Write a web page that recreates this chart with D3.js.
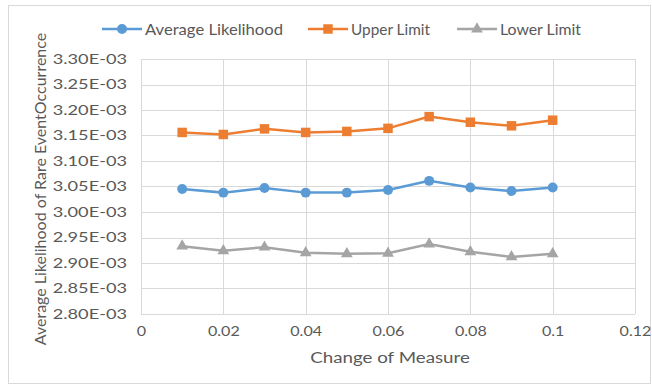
<!DOCTYPE html>
<html><head><meta charset="utf-8">
<script src="https://cdn.jsdelivr.net/npm/d3@7"></script>
<style>body{margin:0;background:#fff;}</style>
</head><body><svg id="c" width="652" height="385"></svg>
<script>
const xValues=[0.01,0.02,0.03,0.04,0.05,0.06,0.07,0.08,0.09,0.1];
const averageLikelihood=[3.045e-3,3.038e-3,3.047e-3,3.038e-3,3.038e-3,3.043e-3,3.061e-3,3.048e-3,3.041e-3,3.048e-3];
const upperLimit=[3.156e-3,3.152e-3,3.163e-3,3.156e-3,3.158e-3,3.164e-3,3.187e-3,3.176e-3,3.169e-3,3.180e-3];
const lowerLimit=[2.933e-3,2.924e-3,2.931e-3,2.920e-3,2.918e-3,2.919e-3,2.937e-3,2.922e-3,2.912e-3,2.918e-3];
const xTicks=[0,0.02,0.04,0.06,0.08,0.1,0.12];
const yTicks=[2.80e-3,2.85e-3,2.90e-3,2.95e-3,3.00e-3,3.05e-3,3.10e-3,3.15e-3,3.20e-3,3.25e-3,3.30e-3];
const seriesNames=["Average Likelihood","Upper Limit","Lower Limit"];
const colors=["#5B9BD5","#ED7D31","#A5A5A5"];

const svg=d3.select("#c");
const font="Lato, 'Open Sans', sans-serif";
const txt="#595959";
svg.append("rect").attr("x",8.5).attr("y",5.5).attr("width",642).attr("height",378).attr("fill","#fff").attr("stroke","#d9d9d9");
const L=141,R=635,T=59,B=314;
const x=d3.scaleLinear().domain([0,0.12]).range([L,R]);
const y=d3.scaleLinear().domain([2.8e-3,3.3e-3]).range([B,T]);
// gridlines
svg.append("g").selectAll("line").data(yTicks).join("line")
 .attr("x1",L).attr("x2",R).attr("y1",d=>Math.round(y(d))+0.5).attr("y2",d=>Math.round(y(d))+0.5).attr("stroke","#d9d9d9");
svg.append("g").selectAll("line").data(xTicks).join("line")
 .attr("y1",T).attr("y2",B).attr("x1",d=>Math.round(x(d))+0.5).attr("x2",d=>Math.round(x(d))+0.5).attr("stroke","#d9d9d9");
// axes
const xa=svg.append("g").attr("transform",`translate(0,${B})`).call(d3.axisBottom(x).tickValues(xTicks).tickSize(0).tickPadding(12).tickFormat(d=>String(+d.toFixed(2))));
const ya=svg.append("g").attr("transform",`translate(${L},0)`).call(d3.axisLeft(y).tickValues(yTicks).tickSize(0).tickPadding(14).tickFormat(d=>(d*1e3).toFixed(2)+"E-03"));
[xa,ya].forEach(a=>{a.select(".domain").remove();a.selectAll("text").attr("fill",txt).style("font-size","14px").style("font-family",font);});
xa.selectAll(".tick text").attr("transform","scale(1.15,1)").attr("x",0);
xa.selectAll(".tick").each(function(){const t=d3.select(this).select("text");t.attr("transform","scale(1.15,1)");});
ya.selectAll(".tick text").attr("transform","translate(-14,0) scale(1.3,1)").attr("x",0);
// axis titles
svg.append("text").attr("transform",`translate(${(L+R)/2+2},363) scale(1.25,1)`).attr("text-anchor","middle").attr("fill",txt).style("font-size","15px").style("font-family",font).text("Change of Measure");
svg.append("text").attr("transform","translate(46,189) rotate(-90)").attr("text-anchor","middle").attr("fill",txt).style("font-size","16px").style("font-family",font).text("Average Likelihood of Rare EventOccurrence");
// series
const data=[averageLikelihood,upperLimit,lowerLimit];
const line=d3.line().x((d,i)=>x(xValues[i])).y(d=>y(d));
const sym=[d3.symbolCircle,d3.symbolSquare,d3.symbolTriangle];
const sizes=[78,90,60];
data.forEach((s,k)=>{
 svg.append("path").datum(s).attr("d",line).attr("fill","none").attr("stroke",colors[k]).attr("stroke-width",2.5);
 svg.append("g").selectAll("path").data(s).join("path")
  .attr("d",d3.symbol().type(sym[k]).size(sizes[k]))
  .attr("transform",(d,i)=>`translate(${x(xValues[i])},${y(d)})`).attr("fill",colors[k]);
});
// legend
const legX=[102,308,457];
const legW=[138,79,81];
seriesNames.forEach((n,k)=>{
 const g=svg.append("g").attr("transform",`translate(${legX[k]},29)`);
 g.append("line").attr("x1",0).attr("x2",40).attr("stroke",colors[k]).attr("stroke-width",2.5);
 g.append("path").attr("d",d3.symbol().type(sym[k]).size(sizes[k])()).attr("transform","translate(20,0)").attr("fill",colors[k]);
 const t=g.append("text").attr("x",43).attr("y",5.5).attr("fill",txt).style("font-size","15px").style("font-family",font).text(n);
 t.attr("textLength",legW[k]).attr("lengthAdjust","spacingAndGlyphs");
});
</script></body></html>
